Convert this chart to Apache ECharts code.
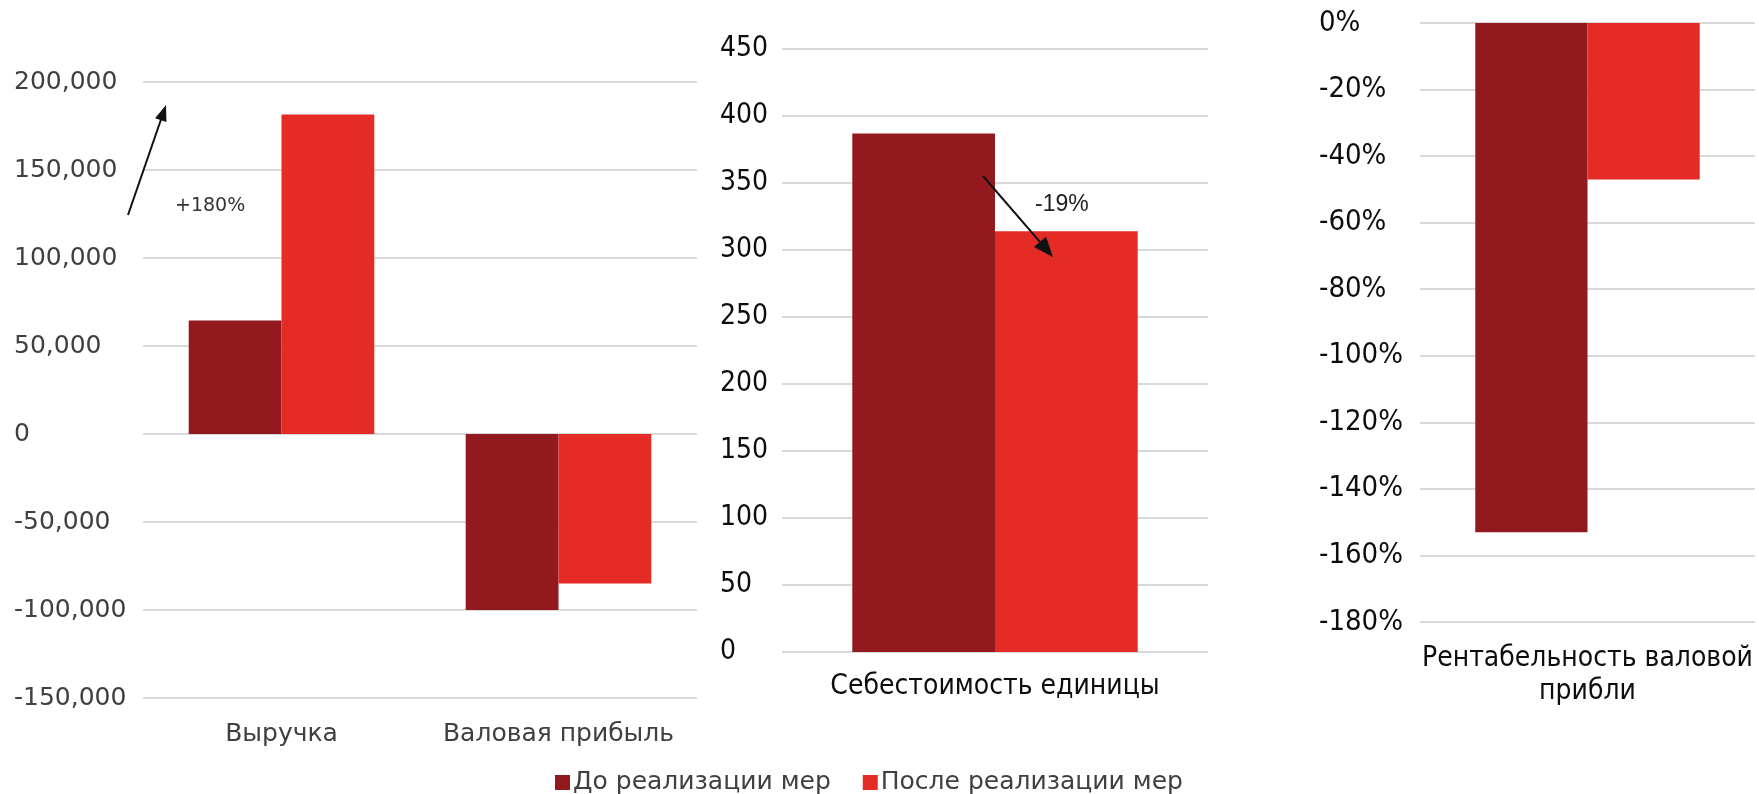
<!DOCTYPE html>
<html><head><meta charset="utf-8">
<script src="https://cdn.jsdelivr.net/npm/echarts@6/dist/echarts.min.js"></script>
<style>html,body{margin:0;padding:0;background:#fff}#c{width:1759px;height:794px}</style>
</head><body><div id="c"></div>
<script>
// ---- data ----
const seriesNames = ['До реализации мер', 'После реализации мер'];
const catsLeft = ['Выручка', 'Валовая прибыль'];
const beforeLeft = [64500, -100000];
const afterLeft = [181500, -85000];
const catsMid = ['Себестоимость единицы'];
const beforeMid = [387];
const afterMid = [314];
const catsRight = ['Рентабельность валовой\nприбли'];
const beforeRight = [-153];
const afterRight = [-47];
const annLeft = '+180%';
const annMid = '-19%';

// ---- style ----
const DARK = '#921a1e', RED = '#e42b25', GRIDC = '#d9d9d9';
const fL = 'DejaVu Sans';
const fR = '"DejaVu Sans Condensed", "DejaVu Sans", sans-serif';
const cL = '#404040', cR = '#0d0d0d';

function arrow(x0, y0, x1, y1, len, w) {
  const dx = x1 - x0, dy = y1 - y0, L = Math.hypot(dx, dy);
  const ux = dx / L, uy = dy / L, bx = x1 - ux * len, by = y1 - uy * len;
  const px = -uy, py = ux;
  return [
    {type: 'line', z: 100, shape: {x1: x0, y1: y0, x2: bx + ux * 2, y2: by + uy * 2}, style: {stroke: '#111', lineWidth: 2}},
    {type: 'polygon', z: 100, shape: {points: [[x1, y1], [bx + px * w / 2, by + py * w / 2], [bx - px * w / 2, by - py * w / 2]]}, style: {fill: '#111'}}
  ];
}

function barSeries(name, color, data, idx) {
  return {type: 'bar', name: name, xAxisIndex: idx, yAxisIndex: idx, data: data,
    barGap: '0%', barCategoryGap: '33%', itemStyle: {color: color}};
}

const chart = echarts.init(document.getElementById('c'));
const option = {
  animation: false,
  backgroundColor: '#fff',
  legend: {
    data: seriesNames, left: 550, top: 765, icon: 'rect', itemWidth: 15, itemHeight: 15, itemGap: 32,
    textStyle: {fontFamily: fL, fontSize: 25, color: cL, padding: [0, 0, 0, -2]}
  },
  grid: [
    {left: 143, top: 82, width: 554, height: 616},
    {left: 782, top: 49, width: 426, height: 603},
    {left: 1420, top: 23, width: 335, height: 599}
  ],
  xAxis: [
    {type: 'category', gridIndex: 0, data: catsLeft, axisLine: {show: false, onZero: false}, axisTick: {show: false},
      axisLabel: {interval: 0, margin: 24, fontFamily: fL, fontSize: 25, color: cL}},
    {type: 'category', gridIndex: 1, data: catsMid, axisLine: {show: false}, axisTick: {show: false},
      axisLabel: {interval: 0, margin: 21, fontFamily: fR, fontSize: 28, color: cR}},
    {type: 'category', gridIndex: 2, data: catsRight, axisLine: {show: false, onZero: false}, axisTick: {show: false},
      axisLabel: {interval: 0, margin: 20, fontFamily: fR, fontSize: 28, lineHeight: 33, color: cR, align: 'center'}}
  ],
  yAxis: [
    {type: 'value', gridIndex: 0, min: -150000, max: 200000, interval: 50000,
      axisLabel: {align: 'left', margin: 129, fontFamily: fL, fontSize: 25, color: cL,
        formatter: v => v.toLocaleString('en-US')},
      splitLine: {lineStyle: {color: GRIDC, width: 2}}, axisLine: {show: false}, axisTick: {show: false}},
    {type: 'value', gridIndex: 1, min: 0, max: 450, interval: 50,
      axisLabel: {align: 'left', margin: 62, fontFamily: fR, fontSize: 28, color: cR},
      splitLine: {lineStyle: {color: GRIDC, width: 2}}, axisLine: {show: false}, axisTick: {show: false}},
    {type: 'value', gridIndex: 2, min: -180, max: 0, interval: 20,
      axisLabel: {align: 'left', margin: 101, fontFamily: fR, fontSize: 29, color: cR, formatter: v => v + '%'},
      splitLine: {lineStyle: {color: GRIDC, width: 2}}, axisLine: {show: false}, axisTick: {show: false}}
  ],
  series: [
    barSeries(seriesNames[0], DARK, beforeLeft, 0),
    barSeries(seriesNames[1], RED, afterLeft, 0),
    barSeries(seriesNames[0], DARK, beforeMid, 1),
    barSeries(seriesNames[1], RED, afterMid, 1),
    barSeries(seriesNames[0], DARK, beforeRight, 2),
    barSeries(seriesNames[1], RED, afterRight, 2)
  ],
  graphic: [
    ...arrow(128, 215, 166, 105, 16, 12),
    {type: 'text', z: 100, left: 175, top: 197, style: {text: annLeft, font: '19px "DejaVu Sans"', fill: '#333'}},
    ...arrow(983, 176, 1053, 257, 20, 16),
    {type: 'text', z: 100, left: 1035, top: 193, style: {text: annMid, font: '23px "Liberation Sans"', fill: '#222'}}
  ]
};
chart.setOption(option);
</script></body></html>
